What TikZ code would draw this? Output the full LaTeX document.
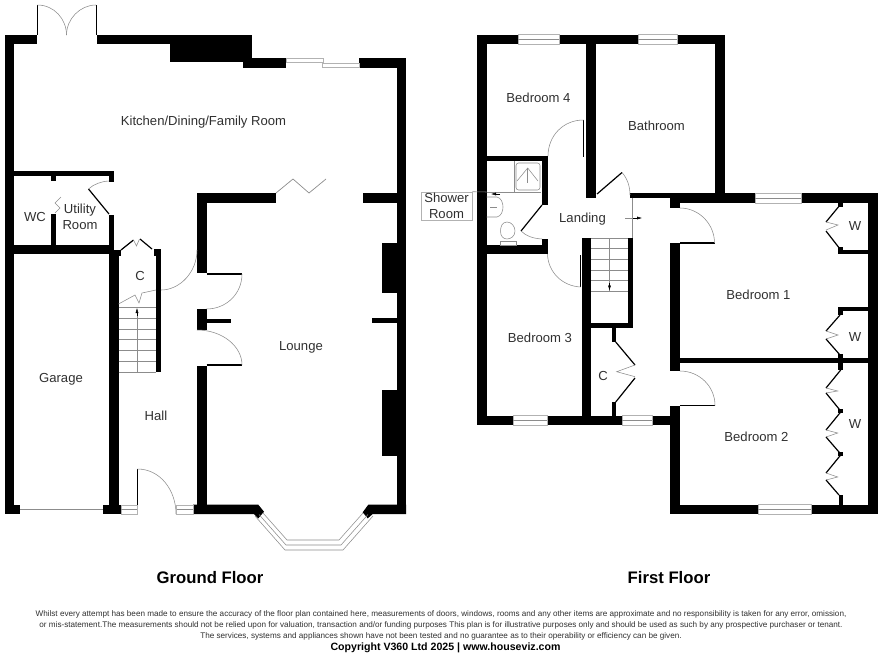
\documentclass[tikz,border=0pt]{standalone}
\usepackage{fontspec}
\setmainfont{Liberation Sans}
\usetikzlibrary{arrows.meta}
\definecolor{labelgrey}{HTML}{303030}
\tikzset{
  wall/.style={fill=black,draw=none},
  leaf/.style={draw=black,line width=1.2pt},
  fine/.style={draw=black!45,line width=0.55pt},
  glaze/.style={draw=black!30,line width=0.6pt,fill=white},
  roomlabel/.style={font=\fontsize{13.1}{15.5}\selectfont,text=labelgrey,inner sep=0pt,align=center},
  floorlabel/.style={font=\bfseries\fontsize{16.7}{20}\selectfont,inner sep=0pt},
  smallprint/.style={font=\fontsize{8.14}{9.5}\selectfont,inner sep=0pt,text=labelgrey}
}
\begin{document}
\begin{tikzpicture}[x=1pt,y=-1pt]
  \useasboundingbox (0,0) rectangle (880,656);
  % ground floor, outer walls
  \fill[wall] (4.7,35) rectangle (14.3,514);
  \fill[wall] (4.7,35) rectangle (36.5,44.3);
  \fill[wall] (96.5,35) rectangle (252,44.3);
  \fill[wall] (170,35) rectangle (252,62);
  \fill[wall] (243,58) rectangle (285.5,67.5);
  \fill[wall] (359,58) rectangle (406,67.5);
  \fill[wall] (396.5,58) rectangle (406,514);
  \fill[wall] (382,243) rectangle (396.5,293);
  \fill[wall] (382,390) rectangle (396.5,456);
  \fill[wall] (372,318) rectangle (396.5,323);
  \fill[wall] (4.7,504.7) rectangle (20,514);
  \fill[wall] (103,504.7) rectangle (121,514);
  \fill[wall] (193,504.7) -- (258.3,504.7) -- (264,511.7) -- (258.3,518.3) -- (254,514) -- (193,514) -- cycle;
  \fill[wall] (406,514) -- (372.7,514) -- (367.7,518.3) -- (362.7,512.3) -- (368.3,504.7) -- (406,504.7) -- cycle;
  % ground floor, inner walls
  \fill[wall] (197,193) rectangle (276,203);
  \fill[wall] (363,193) rectangle (396.5,203);
  \fill[wall] (197,193) rectangle (206.5,273);
  \fill[wall] (197,309) rectangle (206.5,330);
  \fill[wall] (206.5,318.5) rectangle (231,323);
  \fill[wall] (197,366) rectangle (206.5,514);
  \fill[wall] (14,171) rectangle (114,176);
  \fill[wall] (109,171) rectangle (114,182);
  \fill[wall] (51,171) rectangle (56,181);
  \fill[wall] (51,214) rectangle (56,245);
  \fill[wall] (109,215) rectangle (114,245);
  \fill[wall] (14,245) rectangle (114,254);
  \fill[wall] (109,250) rectangle (121,256);
  \fill[wall] (109,250) rectangle (118.5,514);
  \fill[wall] (153.5,249) rectangle (161,256);
  \fill[wall] (156,249) rectangle (161,372);
  % ground floor, garden doors and sliding door
  \draw[leaf,line width=0.9pt] (37.5,5) -- (37.5,35);
  \draw[leaf,line width=0.9pt] (96,5) -- (96,35);
  \draw[fine] (37.5,5) .. controls (54,5) and (66.5,19) .. (66.5,35);
  \draw[fine] (96,5) .. controls (80,5) and (66.5,19) .. (66.5,35);
  \draw[glaze] (286,58) rectangle (323,62);
  \draw[glaze] (322,63) rectangle (359,67.5);
  % ground floor, doors
  \draw[fine,line width=0.7pt] (276,193) -- (293,179) -- (309,193) -- (326,179);
  \draw[leaf] (206.5,274) -- (242,274);
  \draw[fine] (242,274) .. controls (242,294) and (226,309) .. (206.5,309);
  \draw[fine] (161,290) .. controls (180,290) and (197,272) .. (197,250);
  \draw[leaf] (206.5,365) -- (242,365);
  \draw[fine] (242,365) .. controls (242,346) and (222,330) .. (197,330);
  \draw[leaf] (109,214) -- (88.5,189);
  \draw[fine] (88.5,189) .. controls (94,184) and (101,181.5) .. (109,181);
  \draw[fine] (55,213) -- (60,208) -- (55,203) -- (61,197);
  \draw[leaf] (121,250) -- (133.5,240);
  \draw[leaf] (140,239) -- (152,249);
  \draw[fine] (133.5,240) -- (136.5,246) -- (139.5,239);
  \draw[fine] (118.5,304) -- (135,295) -- (139,303) -- (142,293) -- (156,290);
  \draw[leaf,line width=0.9pt] (137.5,469) -- (137.5,514);
  \draw[fine] (137.5,469) .. controls (160,469) and (176,490) .. (176,514);
  \draw[leaf,line width=0.9pt] (176,505) -- (176,514);
  % ground floor, stairs
  \draw[fine] (118.5,307) -- (156,307);
  \draw[fine] (118.5,318) -- (156,318);
  \draw[fine] (118.5,329) -- (156,329);
  \draw[fine] (118.5,339) -- (156,339);
  \draw[fine] (118.5,350) -- (156,350);
  \draw[fine] (118.5,361) -- (156,361);
  \draw[fine] (118.5,372) -- (156,372);
  \draw[fine] (137,372) -- (137,312);
  \draw[-{Latex[length=5pt,width=3pt]},black] (137,316) -- (137,308);
  % ground floor, windows
  \draw[glaze] (121,505) rectangle (137,514);
  \draw[fine] (121,509.5) -- (137,509.5);
  \draw[glaze] (176.5,505) rectangle (193,514);
  \draw[fine] (176.5,509.5) -- (193,509.5);
  \draw[fine,line width=0.7pt] (20,509.3) -- (103,509.3);
  \draw[fine] (255,516) -- (285,550) -- (343,550) -- (373,516);
  \draw[fine] (259,514.5) -- (286,545) -- (341,545) -- (368,514.5);
  \draw[fine] (263,513) -- (287,540) -- (339,540) -- (363,513);
  % first floor, outer walls
  \fill[wall] (477.3,34.5) rectangle (486.7,425);
  \fill[wall] (477.3,34.5) rectangle (518,44);
  \fill[wall] (559,34.5) rectangle (638,44);
  \fill[wall] (677,34.5) rectangle (725,44);
  \fill[wall] (715,34.5) rectangle (725,203);
  \fill[wall] (630,193) rectangle (670,198);
  \fill[wall] (670,193) rectangle (755,203);
  \fill[wall] (801,193) rectangle (878,203);
  \fill[wall] (868,193) rectangle (878,514);
  \fill[wall] (670,504.7) rectangle (758,514);
  \fill[wall] (811,504.7) rectangle (878,514);
  \fill[wall] (477.3,415.5) rectangle (513,425);
  \fill[wall] (547,415.5) rectangle (622,425);
  \fill[wall] (652,415.5) rectangle (680,425);
  % first floor, inner walls
  \fill[wall] (586,44) rectangle (596,198);
  \fill[wall] (486,156) rectangle (548,161);
  \fill[wall] (542,156) rectangle (548,205);
  \fill[wall] (486,245) rectangle (548,254);
  \fill[wall] (542,238.5) rectangle (547.5,245);
  \fill[wall] (581.7,238) rectangle (591,425);
  \fill[wall] (628.3,238) rectangle (632.5,327.7);
  \fill[wall] (591,323) rectangle (632.5,327.7);
  \fill[wall] (611.5,327) rectangle (616,342);
  \fill[wall] (611.5,402) rectangle (616,415.5);
  \fill[wall] (670,193) rectangle (680,208);
  \fill[wall] (670,243) rectangle (680,371);
  \fill[wall] (670,406) rectangle (680,514);
  \fill[wall] (680,358) rectangle (868,363);
  \fill[wall] (838,250) rectangle (868,254);
  \fill[wall] (838,247) rectangle (843,254);
  \fill[wall] (838,203) rectangle (843,207);
  \fill[wall] (838,307) rectangle (868,311);
  \fill[wall] (838,307) rectangle (843,315);
  \fill[wall] (838,354) rectangle (843,370);
  \fill[wall] (838.5,495) rectangle (843,504.7);
  \fill[wall] (838,409) rectangle (842.5,413);
  \fill[wall] (838,452) rectangle (842.5,456);
  % first floor, windows
  \draw[glaze] (518,34.5) rectangle (559,44);
  \draw[fine] (518,39.2) -- (559,39.2);
  \draw[glaze] (638,34.5) rectangle (677,44);
  \draw[fine] (638,39.2) -- (677,39.2);
  \draw[glaze] (755,193) rectangle (801,203);
  \draw[fine] (755,198) -- (801,198);
  \draw[glaze] (513,415.5) rectangle (547,425);
  \draw[fine] (513,420.2) -- (547,420.2);
  \draw[glaze] (622,415.5) rectangle (652,425);
  \draw[fine] (622,420.2) -- (652,420.2);
  \draw[glaze] (758,504.7) rectangle (811,514);
  \draw[fine] (758,509.3) -- (811,509.3);
  % first floor, doors
  \draw[leaf] (583.5,120) -- (583.5,157);
  \draw[fine] (583.5,120) .. controls (563,120) and (548,136) .. (548,156);
  \draw[leaf] (542,205) -- (521,231);
  \draw[fine] (521,231) .. controls (526,236) and (533,238.5) .. (542,239);
  \draw[leaf] (597,194) -- (622,172.5);
  \draw[fine] (622,172.5) .. controls (627,178) and (630,186) .. (630,195);
  \draw[leaf] (580.5,255) -- (580.5,287);
  \draw[fine] (580.5,287) .. controls (562,286) and (548,272) .. (547.5,254);
  \draw[leaf] (680,243) -- (714.5,243);
  \draw[fine] (714.5,243) .. controls (714.5,224) and (699,208) .. (680,208);
  \draw[leaf] (680,405.5) -- (715,405.5);
  \draw[fine] (715,405.5) .. controls (715,386) and (699,371) .. (680,371);
  % first floor, cupboard and wardrobe doors
  \draw[leaf] (615.7,342) -- (635,365);
  \draw[fine] (635,365) -- (616.7,371.7) -- (635,376.7);
  \draw[leaf] (635,378) -- (615.7,402);
  \draw[leaf] (840,205) -- (826,222);
  \draw[fine] (826,222) -- (838,225) -- (826,230);
  \draw[leaf] (826,231) -- (840,249);
  \draw[leaf] (840,315) -- (826,331);
  \draw[fine] (826,331) -- (838,335) -- (826,339);
  \draw[leaf] (826,339) -- (840,355);
  \draw[leaf] (840.7,370) -- (826,388);
  \draw[fine] (826,388) -- (837.7,391) -- (826,393);
  \draw[leaf] (826,393) -- (840.7,411);
  \draw[leaf] (840.7,412) -- (826,430);
  \draw[fine] (826,430) -- (837.7,433) -- (826,437);
  \draw[leaf] (826,437) -- (840.7,454);
  \draw[leaf] (840.7,455) -- (826,473);
  \draw[fine] (826,473) -- (837.7,477) -- (826,480);
  \draw[leaf] (826,480) -- (839,495);
  % first floor, stairs and landing
  \draw[fine] (591,238.3) -- (628.3,238.3);
  \draw[fine] (591,248) -- (628.3,248);
  \draw[fine] (591,259) -- (628.3,259);
  \draw[fine] (591,270) -- (628.3,270);
  \draw[fine] (591,280.7) -- (628.3,280.7);
  \draw[fine] (591,291.7) -- (628.3,291.7);
  \draw[fine] (609.5,238.3) -- (609.5,291.7);
  \draw[-{Latex[length=5pt,width=3pt]},black] (609.5,283) -- (609.5,290.5);
  \draw[fine] (632.3,198) -- (632.3,238);
  \draw[fine] (625,218) -- (640,218);
  \draw[-{Latex[length=5pt,width=3pt]},black] (633,218) -- (642,218);
  % shower room fittings
  \draw[fine] (486.7,192) -- (541,192);
  \draw[fine] (514.3,161) -- (514.3,192);
  \draw[fine,rounded corners=2.5pt] (516,163) rectangle (540,190);
  \draw[fine] (517,181) -- (527.7,168) -- (538,181);
  \draw[fine] (527.7,168) -- (527.7,183);
  \draw[fine] (486.7,197) -- (497,197) .. controls (505,199) and (505,215) .. (497,217) -- (486.7,217);
  \draw[fine] (490,207) -- (497,207);
  \draw[fine] (507,222) .. controls (502,222) and (500.5,227) .. (500.5,231) .. controls (500.5,236) and (503,239) .. (507,239) .. controls (511,239) and (515,236) .. (515,231) .. controls (515,227) and (512,222) .. (507,222);
  \draw[fine] (500,241) -- (516,241) -- (516,245) -- (500,245) -- cycle;
  % labels
  \node[roomlabel] (kitchen) at (203.5,122) {Kitchen/Dining/Family Room};
  \node[roomlabel] (wc) at (35,217) {WC};
  \node[roomlabel] (utility) at (80,217) {Utility\\Room};
  \node[roomlabel] (groundcupboard) at (140,276) {C};
  \node[roomlabel] (garage) at (61,379) {Garage};
  \node[roomlabel] (hall) at (156,416) {Hall};
  \node[roomlabel] (lounge) at (301,347.5) {Lounge};
  \node[roomlabel] (bedfour) at (538.5,97.5) {Bedroom 4};
  \node[roomlabel] (bathroom) at (656.5,126) {Bathroom};
  \node[roomlabel] (landing) at (582.5,219.5) {Landing};
  \node[roomlabel] (bedone) at (758.5,295) {Bedroom 1};
  \node[roomlabel] (bedthree) at (540,338) {Bedroom 3};
  \node[roomlabel] (bedtwo) at (756.5,437) {Bedroom 2};
  \node[roomlabel] (firstcupboard) at (603,376) {C};
  \node[roomlabel] (wone) at (855,226) {W};
  \node[roomlabel] (wtwo) at (855,337) {W};
  \node[roomlabel] (wthree) at (855,424) {W};
  \node[roomlabel,draw=black!30,fill=white,line width=0.6pt,minimum width=51pt,minimum height=28pt] (shower) at (446.5,206) {Shower\\Room};
  \coordinate (showerend) at (491,194);
  \draw[fine] (shower.north east) -- (486.7,192);
  \draw[-{Latex[length=5pt,width=3pt]},black] (500,194) -- (showerend);
  % titles and small print
  \node[floorlabel] (groundfloor) at (210,578) {Ground Floor};
  \node[floorlabel] (firstfloor) at (669,578) {First Floor};
  \node[smallprint] (lineone) at (441,614) {Whilst every attempt has been made to ensure the accuracy of the floor plan contained here, measurements of doors, windows, rooms and any other items are approximate and no responsibility is taken for any error, omission,};
  \node[smallprint] (linetwo) at (441,625) {or mis-statement.The measurements should not be relied upon for valuation, transaction and/or funding purposes This plan is for illustrative purposes only and should be used as such by any prospective purchaser or tenant.};
  \node[smallprint] (linethree) at (441,636) {The services, systems and appliances shown have not been tested and no guarantee as to their operability or efficiency can be given.};
  \node[font=\bfseries\fontsize{10.6}{12.5}\selectfont,inner sep=0pt] (copyright) at (445.5,648) {Copyright V360 Ltd 2025 | www.houseviz.com};
\end{tikzpicture}
\end{document}
